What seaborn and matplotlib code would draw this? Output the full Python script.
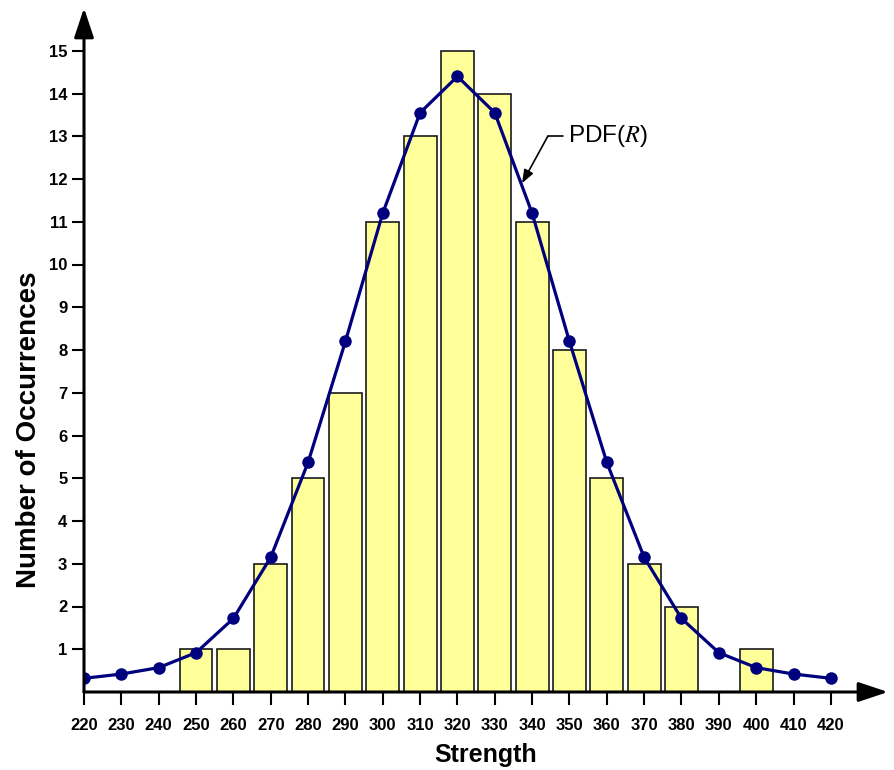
import numpy as np
import pandas as pd
import matplotlib
matplotlib.use("Agg")
import matplotlib.pyplot as plt
import seaborn as sns

# --- data ---
bin_centers = [250, 260, 270, 280, 290, 300, 310, 320, 330, 340, 350, 360, 370, 380, 400]
counts = [1, 1, 3, 5, 7, 11, 13, 15, 14, 11, 8, 5, 3, 2, 1]

pdf_x = [220, 230, 240, 250, 260, 270, 280, 290, 300, 310, 320,
         330, 340, 350, 360, 370, 380, 390, 400, 410, 420]
pdf_y = [0.32, 0.42, 0.57, 0.92, 1.72, 3.15, 5.37, 8.2, 11.2, 13.55, 14.4,
         13.55, 11.2, 8.2, 5.37, 3.15, 1.72, 0.92, 0.57, 0.42, 0.32]

x_ticks = list(range(220, 430, 10))
y_ticks = list(range(1, 16))

sns.set_style("white")
plt.rcParams["font.family"] = ["Liberation Sans", "DejaVu Sans"]
plt.rcParams["mathtext.fontset"] = "stix"
plt.rcParams["text.color"] = "black"
plt.rcParams["axes.labelcolor"] = "black"
plt.rcParams["xtick.color"] = "black"
plt.rcParams["ytick.color"] = "black"

fig = plt.figure(figsize=(8.94, 7.70), dpi=100)
ax = fig.add_axes([84 / 894, 78 / 770, 804 / 894, 684 / 770])

hist_df = pd.DataFrame({"Strength": bin_centers, "Count": counts})
sns.barplot(data=hist_df, x="Strength", y="Count", native_scale=True,
            width=0.88, color="#FFFF99", saturation=1,
            edgecolor="#1a1a1a", linewidth=1.2, ax=ax, zorder=2)

pdf_df = pd.DataFrame({"Strength": pdf_x, "PDF": pdf_y})
sns.lineplot(data=pdf_df, x="Strength", y="PDF", color="#00007F",
             linewidth=2.3, marker="o", markersize=9, markeredgewidth=0,
             ax=ax, zorder=3)

ax.set_xlim(220, 435.3)
ax.set_ylim(0, 16.0)

for s in ax.spines.values():
    s.set_visible(False)

# axes with arrow heads
arrow_kw = dict(arrowstyle="-|>,head_length=1.8,head_width=0.6",
                color="black", lw=2.2, shrinkA=0, shrinkB=0)
ax.annotate("", xy=(1, 0), xytext=(0, 0), xycoords="axes fraction",
            arrowprops=arrow_kw, annotation_clip=False)
ax.annotate("", xy=(0, 1), xytext=(0, 0), xycoords="axes fraction",
            arrowprops=arrow_kw, annotation_clip=False)

ax.set_xticks(x_ticks)
ax.set_yticks(y_ticks)
ax.tick_params(axis="both", direction="out", length=9, width=1.5,
               color="black", labelsize=12, bottom=True, left=True,
               labelcolor="black")
ax.tick_params(axis="x", pad=10)
ax.tick_params(axis="y", pad=3)
for lab in ax.get_xticklabels() + ax.get_yticklabels():
    lab.set_fontweight("bold")

ax.set_xlabel("Strength", fontsize=18, fontweight="bold", labelpad=7)
ax.set_ylabel("Number of Occurrences", fontsize=20, fontweight="bold")
ax.yaxis.set_label_coords(-0.052, 0.383)

# PDF(R) label with leader arrow
ax.plot([344.2, 348.3], [13.0, 13.0], color="black", lw=1.2, zorder=4)
ax.annotate("", xy=(337.3, 11.9), xytext=(344.2, 13.0),
            arrowprops=dict(arrowstyle="-|>,head_length=0.8,head_width=0.3",
                            color="black", lw=1.2, shrinkA=0, shrinkB=0))
ax.text(349.5, 13.0, "PDF($R$)", fontsize=17.5, va="center", ha="left")

fig.savefig("out.png", dpi=100)
